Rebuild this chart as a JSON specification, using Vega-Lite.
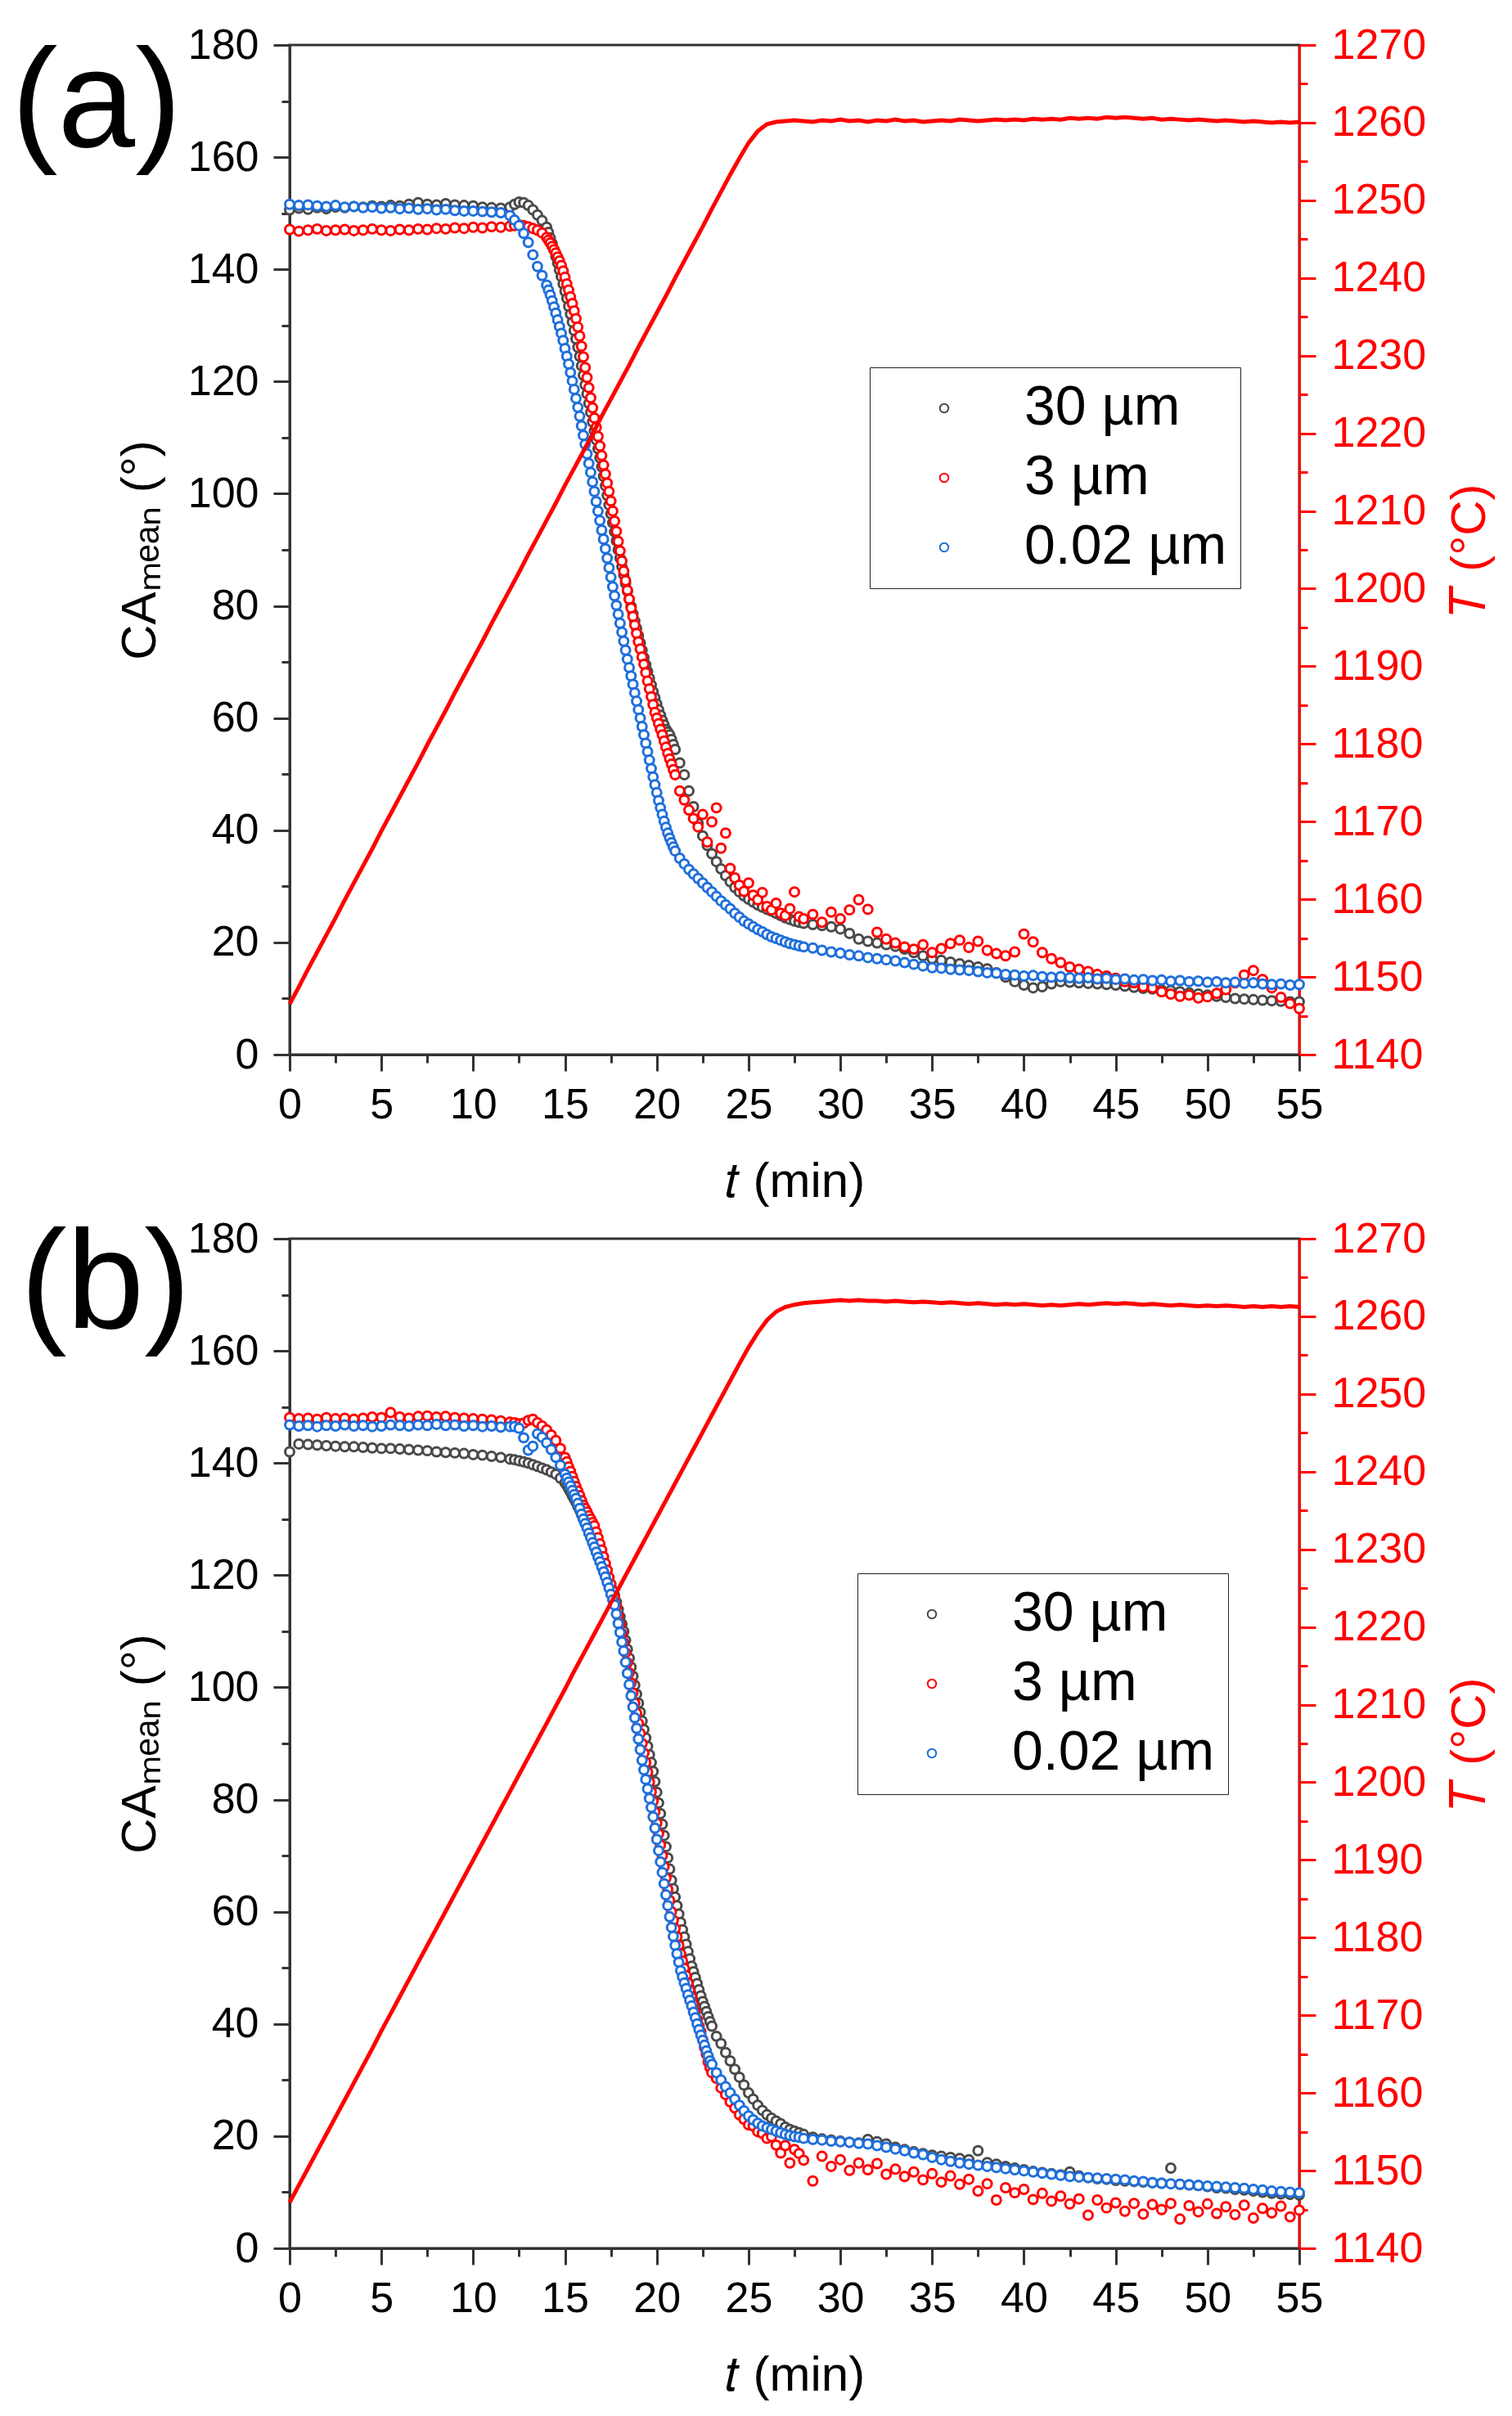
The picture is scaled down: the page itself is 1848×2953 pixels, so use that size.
{
  "$schema": "https://vega.github.io/schema/vega-lite/v6.json",
  "background": "white",
  "padding": {"left": 12, "top": 27, "right": 0, "bottom": 0},
  "config": {
    "font": "Liberation Sans",
    "view": {"stroke": "#333333", "strokeWidth": 3},
    "axis": {
      "labelFont": "Liberation Sans", "labelFontSize": 52, "labelColor": "#000000",
      "titleFont": "Liberation Sans", "titleFontSize": 60, "titleFontWeight": "normal", "titleColor": "#000000",
      "grid": false, "domainColor": "#333333", "domainWidth": 3, "tickColor": "#333333", "tickWidth": 3,
      "labelOverlap": false, "labelFlush": false, "zindex": 1, "format": "d"
    },
    "legend": {
      "orient": "none", "labelFont": "Liberation Sans", "labelFontSize": 68, "labelOffset": 64, "symbolOffset": 41,
      "labelLimit": 600, "rowPadding": 17, "padding": 16, "strokeColor": "#222222", "fillColor": "white",
      "symbolType": "circle", "symbolSize": 110, "symbolStrokeWidth": 2
    }
  },
  "datasets": {
    "a": [
      {"t":0,"c30":150.6,"c3":147.1,"c002":151.6,"T":1146.5},
      {"t":0.5,"c30":150.9,"c3":146.8,"c002":151.4,"T":1148.7},
      {"t":1,"c30":150.7,"c3":147.0,"c002":151.5,"T":1151.0},
      {"t":1.5,"c30":151.0,"c3":147.2,"c002":151.3,"T":1153.2},
      {"t":2,"c30":150.8,"c3":146.9,"c002":151.2,"T":1155.4},
      {"t":2.5,"c30":151.1,"c3":147.0,"c002":151.4,"T":1157.6},
      {"t":3,"c30":151.0,"c3":147.1,"c002":151.1,"T":1159.9},
      {"t":3.5,"c30":151.2,"c3":146.9,"c002":151.2,"T":1162.1},
      {"t":4,"c30":151.1,"c3":147.0,"c002":151.0,"T":1164.3},
      {"t":4.5,"c30":151.3,"c3":147.2,"c002":151.1,"T":1166.5},
      {"t":5,"c30":151.2,"c3":147.0,"c002":150.9,"T":1168.8},
      {"t":5.5,"c30":151.4,"c3":146.9,"c002":151.0,"T":1171.0},
      {"t":6,"c30":151.3,"c3":147.1,"c002":150.8,"T":1173.2},
      {"t":6.5,"c30":151.6,"c3":147.0,"c002":150.9,"T":1175.4},
      {"t":7,"c30":151.9,"c3":147.2,"c002":150.7,"T":1177.6},
      {"t":7.5,"c30":151.6,"c3":147.1,"c002":150.8,"T":1179.9},
      {"t":8,"c30":151.5,"c3":147.3,"c002":150.6,"T":1182.1},
      {"t":8.5,"c30":151.7,"c3":147.2,"c002":150.7,"T":1184.3},
      {"t":9,"c30":151.5,"c3":147.4,"c002":150.5,"T":1186.6},
      {"t":9.5,"c30":151.4,"c3":147.3,"c002":150.4,"T":1188.8},
      {"t":10,"c30":151.3,"c3":147.5,"c002":150.4,"T":1191.0},
      {"t":10.5,"c30":151.1,"c3":147.4,"c002":150.3,"T":1193.2},
      {"t":11,"c30":151.0,"c3":147.6,"c002":150.2,"T":1195.5},
      {"t":11.5,"c30":150.9,"c3":147.5,"c002":150.1,"T":1197.7},
      {"t":12,"c30":151.1,"c3":147.7,"c002":149.6,"T":1199.9},
      {"t":12.25,"c30":151.6,"c3":147.8,"c002":148.8},
      {"t":12.5,"c30":152.0,"c3":147.9,"c002":147.8,"T":1202.1},
      {"t":12.75,"c30":151.9,"c3":147.8,"c002":146.4},
      {"t":13,"c30":151.4,"c3":147.6,"c002":144.8,"T":1204.4},
      {"t":13.25,"c30":150.6,"c3":147.3,"c002":142.6},
      {"t":13.5,"c30":149.7,"c3":147.0,"c002":140.5,"T":1206.6},
      {"t":13.75,"c30":148.7,"c3":146.5,"c002":138.9},
      {"t":14,"c30":147.5,"c3":145.7,"c002":137.2,"T":1208.8},
      {"t":14.1,"c30":146.6,"c3":145.2,"c002":136.3},
      {"t":14.2,"c30":145.6,"c3":144.7,"c002":135.4},
      {"t":14.3,"c30":144.6,"c3":144.1,"c002":134.4},
      {"t":14.4,"c30":143.5,"c3":143.5,"c002":133.3},
      {"t":14.5,"c30":142.3,"c3":142.9,"c002":132.2,"T":1211.0},
      {"t":14.6,"c30":141.1,"c3":142.2,"c002":131.0},
      {"t":14.7,"c30":139.9,"c3":141.5,"c002":129.8},
      {"t":14.8,"c30":138.7,"c3":140.7,"c002":128.6},
      {"t":14.9,"c30":137.4,"c3":139.7,"c002":127.3},
      {"t":15,"c30":136.1,"c3":138.6,"c002":125.9,"T":1213.3},
      {"t":15.1,"c30":134.8,"c3":137.4,"c002":124.5},
      {"t":15.2,"c30":133.4,"c3":136.3,"c002":123.1},
      {"t":15.3,"c30":132.0,"c3":135.1,"c002":121.6},
      {"t":15.4,"c30":130.6,"c3":133.9,"c002":120.1},
      {"t":15.5,"c30":129.1,"c3":132.6,"c002":118.6,"T":1215.5},
      {"t":15.6,"c30":127.6,"c3":131.2,"c002":117.0},
      {"t":15.7,"c30":126.1,"c3":129.7,"c002":115.4},
      {"t":15.8,"c30":124.5,"c3":128.1,"c002":113.8},
      {"t":15.9,"c30":122.8,"c3":126.3,"c002":112.1},
      {"t":16,"c30":121.1,"c3":124.4,"c002":110.4,"T":1217.7},
      {"t":16.1,"c30":119.4,"c3":122.5,"c002":108.8},
      {"t":16.2,"c30":117.8,"c3":120.7,"c002":107.1},
      {"t":16.3,"c30":116.1,"c3":118.9,"c002":105.4},
      {"t":16.4,"c30":114.5,"c3":117.1,"c002":103.8},
      {"t":16.5,"c30":112.8,"c3":115.3,"c002":102.1,"T":1219.9},
      {"t":16.6,"c30":111.2,"c3":113.5,"c002":100.4},
      {"t":16.7,"c30":109.6,"c3":111.8,"c002":98.6},
      {"t":16.8,"c30":108.0,"c3":110.2,"c002":96.9},
      {"t":16.9,"c30":106.4,"c3":108.5,"c002":95.2},
      {"t":17,"c30":104.8,"c3":106.8,"c002":93.5,"T":1222.2},
      {"t":17.1,"c30":103.1,"c3":105.1,"c002":91.9},
      {"t":17.2,"c30":101.4,"c3":103.5,"c002":90.2},
      {"t":17.3,"c30":99.7,"c3":101.9,"c002":88.5},
      {"t":17.4,"c30":98.0,"c3":100.4,"c002":86.8},
      {"t":17.5,"c30":96.4,"c3":98.7,"c002":85.1,"T":1224.4},
      {"t":17.6,"c30":94.8,"c3":96.9,"c002":83.4},
      {"t":17.7,"c30":93.2,"c3":95.1,"c002":81.8},
      {"t":17.8,"c30":91.6,"c3":93.3,"c002":80.1},
      {"t":17.9,"c30":90.0,"c3":91.5,"c002":78.5},
      {"t":18,"c30":88.5,"c3":89.8,"c002":76.9,"T":1226.6},
      {"t":18.1,"c30":87.0,"c3":88.0,"c002":75.3},
      {"t":18.2,"c30":85.5,"c3":86.2,"c002":73.7},
      {"t":18.3,"c30":84.0,"c3":84.5,"c002":72.1},
      {"t":18.4,"c30":82.6,"c3":82.8,"c002":70.5},
      {"t":18.5,"c30":81.2,"c3":81.2,"c002":69.0,"T":1228.8},
      {"t":18.6,"c30":79.9,"c3":79.6,"c002":67.5},
      {"t":18.7,"c30":78.6,"c3":78.1,"c002":66.0},
      {"t":18.8,"c30":77.3,"c3":76.6,"c002":64.5},
      {"t":18.9,"c30":76.0,"c3":75.1,"c002":63.0},
      {"t":19,"c30":74.7,"c3":73.6,"c002":61.5,"T":1231.1},
      {"t":19.1,"c30":73.4,"c3":72.3,"c002":60.0},
      {"t":19.2,"c30":72.1,"c3":70.9,"c002":58.5},
      {"t":19.3,"c30":70.8,"c3":69.6,"c002":57.0},
      {"t":19.4,"c30":69.5,"c3":68.1,"c002":55.5},
      {"t":19.5,"c30":68.3,"c3":66.6,"c002":54.0,"T":1233.3},
      {"t":19.6,"c30":67.1,"c3":65.2,"c002":52.5},
      {"t":19.7,"c30":65.9,"c3":63.8,"c002":51.0},
      {"t":19.8,"c30":64.7,"c3":62.4,"c002":49.5},
      {"t":19.9,"c30":63.6,"c3":61.0,"c002":48.1},
      {"t":20,"c30":62.5,"c3":60.0,"c002":46.7,"T":1235.5},
      {"t":20.1,"c30":61.5,"c3":59.0,"c002":45.3},
      {"t":20.2,"c30":60.5,"c3":58.0,"c002":44.0},
      {"t":20.3,"c30":59.6,"c3":57.0,"c002":42.8},
      {"t":20.4,"c30":58.8,"c3":55.9,"c002":41.6},
      {"t":20.5,"c30":58.0,"c3":54.8,"c002":40.5,"T":1237.7},
      {"t":20.6,"c30":57.5,"c3":53.7,"c002":39.5},
      {"t":20.7,"c30":57.0,"c3":52.7,"c002":38.6},
      {"t":20.8,"c30":56.2,"c3":51.8,"c002":37.8},
      {"t":20.9,"c30":55.3,"c3":50.8,"c002":37.0},
      {"t":21,"c30":54.4,"c3":49.9,"c002":36.3,"T":1240.0},
      {"t":21.25,"c30":52.0,"c3":47.0,"c002":35.0},
      {"t":21.5,"c30":49.9,"c3":45.4,"c002":34.0,"T":1242.2},
      {"t":21.75,"c30":47.0,"c3":43.6,"c002":33.0},
      {"t":22,"c30":44.2,"c3":42.1,"c002":32.2,"T":1244.4},
      {"t":22.25,"c30":41.2,"c3":40.6,"c002":31.4},
      {"t":22.5,"c30":39.0,"c3":42.8,"c002":30.6,"T":1246.6},
      {"t":22.75,"c30":37.3,"c3":37.9,"c002":29.8},
      {"t":23,"c30":35.8,"c3":41.5,"c002":29.0,"T":1248.9},
      {"t":23.25,"c30":34.4,"c3":44.0,"c002":28.2},
      {"t":23.5,"c30":33.1,"c3":36.8,"c002":27.4,"T":1251.1},
      {"t":23.75,"c30":31.9,"c3":39.5,"c002":26.7},
      {"t":24,"c30":30.8,"c3":33.2,"c002":26.0,"T":1253.3},
      {"t":24.25,"c30":29.8,"c3":31.5,"c002":25.2},
      {"t":24.5,"c30":29.0,"c3":30.2,"c002":24.5,"T":1255.4},
      {"t":24.75,"c30":28.3,"c3":29.1,"c002":23.8},
      {"t":25,"c30":27.7,"c3":30.6,"c002":23.3,"T":1257.4},
      {"t":25.25,"c30":27.2,"c3":28.4,"c002":22.8},
      {"t":25.5,"c30":26.7,"c3":27.6,"c002":22.3,"T":1258.9},
      {"t":25.75,"c30":26.3,"c3":28.9,"c002":21.9},
      {"t":26,"c30":25.9,"c3":26.4,"c002":21.4,"T":1259.8},
      {"t":26.25,"c30":25.6,"c3":25.8,"c002":21.0},
      {"t":26.5,"c30":25.2,"c3":27.0,"c002":20.7,"T":1260.1},
      {"t":26.75,"c30":24.8,"c3":25.2,"c002":20.4},
      {"t":27,"c30":24.4,"c3":24.8,"c002":20.1,"T":1260.2},
      {"t":27.25,"c30":24.1,"c3":26.0,"c002":19.8},
      {"t":27.5,"c30":23.8,"c3":29.0,"c002":19.6,"T":1260.3},
      {"t":27.75,"c30":23.6,"c3":24.6,"c002":19.4},
      {"t":28,"c30":23.4,"c3":24.2,"c002":19.2,"T":1260.2},
      {"t":28.5,"c30":23.2,"c3":25.0,"c002":19.0,"T":1260.1},
      {"t":29,"c30":23.0,"c3":23.6,"c002":18.6,"T":1260.3},
      {"t":29.5,"c30":22.8,"c3":25.4,"c002":18.3,"T":1260.2},
      {"t":30,"c30":22.4,"c3":24.2,"c002":18.1,"T":1260.4},
      {"t":30.5,"c30":21.6,"c3":25.8,"c002":17.8,"T":1260.2},
      {"t":31,"c30":20.6,"c3":27.6,"c002":17.6,"T":1260.3},
      {"t":31.5,"c30":20.2,"c3":25.9,"c002":17.3,"T":1260.1},
      {"t":32,"c30":19.9,"c3":21.8,"c002":17.1,"T":1260.3},
      {"t":32.5,"c30":19.6,"c3":20.6,"c002":16.9,"T":1260.2},
      {"t":33,"c30":19.3,"c3":19.9,"c002":16.7,"T":1260.4},
      {"t":33.5,"c30":18.8,"c3":19.2,"c002":16.4,"T":1260.2},
      {"t":34,"c30":18.2,"c3":18.8,"c002":16.1,"T":1260.3},
      {"t":34.5,"c30":17.6,"c3":19.6,"c002":15.8,"T":1260.1},
      {"t":35,"c30":17.1,"c3":18.2,"c002":15.5,"T":1260.2},
      {"t":35.5,"c30":16.8,"c3":18.9,"c002":15.4,"T":1260.3},
      {"t":36,"c30":16.5,"c3":19.8,"c002":15.2,"T":1260.2},
      {"t":36.5,"c30":16.2,"c3":20.4,"c002":15.1,"T":1260.4},
      {"t":37,"c30":15.9,"c3":19.1,"c002":15.0,"T":1260.3},
      {"t":37.5,"c30":15.6,"c3":20.2,"c002":14.8,"T":1260.2},
      {"t":38,"c30":15.3,"c3":18.6,"c002":14.6,"T":1260.3},
      {"t":38.5,"c30":14.6,"c3":18.0,"c002":14.5,"T":1260.4},
      {"t":39,"c30":13.8,"c3":17.6,"c002":14.3,"T":1260.3},
      {"t":39.5,"c30":13.0,"c3":18.3,"c002":14.2,"T":1260.4},
      {"t":40,"c30":12.4,"c3":21.5,"c002":14.0,"T":1260.3},
      {"t":40.5,"c30":11.9,"c3":20.1,"c002":14.1,"T":1260.5},
      {"t":41,"c30":12.1,"c3":18.2,"c002":13.9,"T":1260.4},
      {"t":41.5,"c30":12.6,"c3":17.1,"c002":13.8,"T":1260.5},
      {"t":42,"c30":13.0,"c3":16.4,"c002":13.9,"T":1260.4},
      {"t":42.5,"c30":12.9,"c3":15.6,"c002":13.7,"T":1260.6},
      {"t":43,"c30":12.8,"c3":15.2,"c002":13.6,"T":1260.5},
      {"t":43.5,"c30":12.7,"c3":14.8,"c002":13.7,"T":1260.6},
      {"t":44,"c30":12.6,"c3":14.3,"c002":13.5,"T":1260.5},
      {"t":44.5,"c30":12.5,"c3":14.0,"c002":13.6,"T":1260.7},
      {"t":45,"c30":12.4,"c3":13.6,"c002":13.4,"T":1260.6},
      {"t":45.5,"c30":12.2,"c3":13.0,"c002":13.5,"T":1260.7},
      {"t":46,"c30":12.0,"c3":12.8,"c002":13.3,"T":1260.6},
      {"t":46.5,"c30":11.8,"c3":12.1,"c002":13.4,"T":1260.5},
      {"t":47,"c30":11.7,"c3":11.9,"c002":13.2,"T":1260.6},
      {"t":47.5,"c30":11.5,"c3":11.2,"c002":13.3,"T":1260.4},
      {"t":48,"c30":11.4,"c3":10.8,"c002":13.1,"T":1260.5},
      {"t":48.5,"c30":11.2,"c3":10.4,"c002":13.2,"T":1260.4},
      {"t":49,"c30":11.0,"c3":10.6,"c002":13.0,"T":1260.3},
      {"t":49.5,"c30":10.8,"c3":10.1,"c002":13.1,"T":1260.4},
      {"t":50,"c30":10.6,"c3":10.3,"c002":12.9,"T":1260.3},
      {"t":50.5,"c30":10.4,"c3":10.9,"c002":13.0,"T":1260.2},
      {"t":51,"c30":10.2,"c3":11.6,"c002":12.8,"T":1260.3},
      {"t":51.5,"c30":10.0,"c3":12.8,"c002":12.9,"T":1260.2},
      {"t":52,"c30":9.9,"c3":14.2,"c002":12.7,"T":1260.1},
      {"t":52.5,"c30":9.8,"c3":15.0,"c002":12.8,"T":1260.2},
      {"t":53,"c30":9.7,"c3":13.4,"c002":12.6,"T":1260.1},
      {"t":53.5,"c30":9.6,"c3":11.9,"c002":12.5,"T":1260.0},
      {"t":54,"c30":9.5,"c3":10.2,"c002":12.6,"T":1260.1},
      {"t":54.5,"c30":9.4,"c3":9.1,"c002":12.4,"T":1260.0},
      {"t":55,"c30":9.4,"c3":8.2,"c002":12.5,"T":1260.1}
    ],
    "b": [
      {"t":0,"c30":142.0,"c3":148.1,"c002":146.8,"T":1145.9},
      {"t":0.5,"c30":143.4,"c3":147.9,"c002":146.6,"T":1148.1},
      {"t":1,"c30":143.3,"c3":148.0,"c002":146.7,"T":1150.3},
      {"t":1.5,"c30":143.2,"c3":147.8,"c002":146.5,"T":1152.5},
      {"t":2,"c30":143.1,"c3":148.1,"c002":146.7,"T":1154.7},
      {"t":2.5,"c30":143.0,"c3":147.9,"c002":146.6,"T":1156.9},
      {"t":3,"c30":142.9,"c3":148.0,"c002":146.8,"T":1159.1},
      {"t":3.5,"c30":142.9,"c3":147.8,"c002":146.6,"T":1161.3},
      {"t":4,"c30":142.8,"c3":148.0,"c002":146.7,"T":1163.5},
      {"t":4.5,"c30":142.7,"c3":148.2,"c002":146.5,"T":1165.7},
      {"t":5,"c30":142.6,"c3":148.1,"c002":146.6,"T":1168.0},
      {"t":5.5,"c30":142.6,"c3":149.0,"c002":146.8,"T":1170.2},
      {"t":6,"c30":142.5,"c3":148.2,"c002":146.7,"T":1172.4},
      {"t":6.5,"c30":142.4,"c3":148.0,"c002":146.6,"T":1174.6},
      {"t":7,"c30":142.3,"c3":148.3,"c002":146.8,"T":1176.8},
      {"t":7.5,"c30":142.2,"c3":148.4,"c002":146.7,"T":1179.0},
      {"t":8,"c30":142.0,"c3":148.2,"c002":146.9,"T":1181.2},
      {"t":8.5,"c30":141.9,"c3":148.3,"c002":146.7,"T":1183.4},
      {"t":9,"c30":141.8,"c3":148.1,"c002":146.8,"T":1185.6},
      {"t":9.5,"c30":141.7,"c3":148.0,"c002":146.6,"T":1187.8},
      {"t":10,"c30":141.5,"c3":147.9,"c002":146.7,"T":1190.0},
      {"t":10.5,"c30":141.4,"c3":147.8,"c002":146.5,"T":1192.2},
      {"t":11,"c30":141.2,"c3":147.7,"c002":146.6,"T":1194.4},
      {"t":11.5,"c30":141.0,"c3":147.5,"c002":146.4,"T":1196.6},
      {"t":12,"c30":140.7,"c3":147.3,"c002":146.5,"T":1198.8},
      {"t":12.25,"c30":140.6,"c3":147.2,"c002":146.5},
      {"t":12.5,"c30":140.4,"c3":147.0,"c002":146.2,"T":1201.0},
      {"t":12.75,"c30":140.2,"c3":147.1,"c002":144.5},
      {"t":13,"c30":140.0,"c3":147.6,"c002":142.3,"T":1203.2},
      {"t":13.25,"c30":139.7,"c3":147.8,"c002":143.0},
      {"t":13.5,"c30":139.4,"c3":147.2,"c002":145.2,"T":1205.4},
      {"t":13.75,"c30":139.1,"c3":146.6,"c002":144.6},
      {"t":14,"c30":138.8,"c3":145.9,"c002":143.6,"T":1207.6},
      {"t":14.25,"c30":138.4,"c3":145.0,"c002":142.4},
      {"t":14.5,"c30":138.0,"c3":144.0,"c002":141.0,"T":1209.8},
      {"t":14.75,"c30":137.3,"c3":142.6,"c002":139.6},
      {"t":15,"c30":136.5,"c3":141.0,"c002":138.0,"T":1212.0},
      {"t":15.1,"c30":136.0,"c3":140.2,"c002":137.3},
      {"t":15.2,"c30":135.4,"c3":139.3,"c002":136.6},
      {"t":15.3,"c30":134.8,"c3":138.5,"c002":135.9},
      {"t":15.4,"c30":134.2,"c3":137.6,"c002":135.1},
      {"t":15.5,"c30":133.6,"c3":136.7,"c002":134.4,"T":1214.3},
      {"t":15.6,"c30":133.0,"c3":135.8,"c002":133.7},
      {"t":15.7,"c30":132.3,"c3":135.0,"c002":132.8},
      {"t":15.8,"c30":131.6,"c3":134.2,"c002":131.9},
      {"t":15.9,"c30":130.8,"c3":133.3,"c002":130.9},
      {"t":16,"c30":130.0,"c3":132.5,"c002":130.0,"T":1216.5},
      {"t":16.1,"c30":129.3,"c3":131.9,"c002":129.2},
      {"t":16.2,"c30":128.7,"c3":131.3,"c002":128.4},
      {"t":16.3,"c30":128.0,"c3":130.6,"c002":127.5},
      {"t":16.4,"c30":127.3,"c3":130.0,"c002":126.7},
      {"t":16.5,"c30":126.7,"c3":129.4,"c002":125.8,"T":1218.7},
      {"t":16.6,"c30":126.0,"c3":128.8,"c002":125.0},
      {"t":16.7,"c30":125.0,"c3":127.7,"c002":124.1},
      {"t":16.8,"c30":124.0,"c3":126.7,"c002":123.2},
      {"t":16.9,"c30":123.0,"c3":125.6,"c002":122.4},
      {"t":17,"c30":122.0,"c3":124.5,"c002":121.5,"T":1220.9},
      {"t":17.1,"c30":121.2,"c3":123.3,"c002":120.6},
      {"t":17.2,"c30":120.4,"c3":122.1,"c002":119.7},
      {"t":17.3,"c30":119.6,"c3":120.9,"c002":118.7},
      {"t":17.4,"c30":118.8,"c3":119.6,"c002":117.7},
      {"t":17.5,"c30":118.0,"c3":118.4,"c002":116.6,"T":1223.1},
      {"t":17.6,"c30":117.2,"c3":117.2,"c002":115.6},
      {"t":17.7,"c30":116.4,"c3":116.0,"c002":114.7},
      {"t":17.8,"c30":115.2,"c3":114.4,"c002":113.1},
      {"t":17.9,"c30":113.9,"c3":112.8,"c002":111.4},
      {"t":18,"c30":112.6,"c3":111.2,"c002":109.8,"T":1225.3},
      {"t":18.1,"c30":111.3,"c3":109.6,"c002":108.1},
      {"t":18.2,"c30":110.0,"c3":108.0,"c002":106.5},
      {"t":18.3,"c30":108.4,"c3":106.2,"c002":104.5},
      {"t":18.4,"c30":106.8,"c3":104.4,"c002":102.5},
      {"t":18.5,"c30":105.2,"c3":102.6,"c002":100.5,"T":1227.5},
      {"t":18.6,"c30":103.6,"c3":100.8,"c002":98.5},
      {"t":18.7,"c30":102.0,"c3":99.0,"c002":96.5},
      {"t":18.8,"c30":100.4,"c3":97.2,"c002":94.6},
      {"t":18.9,"c30":98.8,"c3":95.4,"c002":92.7},
      {"t":19,"c30":97.2,"c3":93.6,"c002":90.8,"T":1229.7},
      {"t":19.1,"c30":95.6,"c3":91.8,"c002":88.9},
      {"t":19.2,"c30":94.0,"c3":90.0,"c002":87.0},
      {"t":19.3,"c30":92.5,"c3":88.3,"c002":85.3},
      {"t":19.4,"c30":91.0,"c3":86.6,"c002":83.6},
      {"t":19.5,"c30":89.5,"c3":84.9,"c002":81.9,"T":1231.9},
      {"t":19.6,"c30":88.0,"c3":83.1,"c002":80.2},
      {"t":19.7,"c30":86.6,"c3":81.4,"c002":78.6},
      {"t":19.8,"c30":85.0,"c3":79.7,"c002":76.9},
      {"t":19.9,"c30":83.2,"c3":77.8,"c002":74.9},
      {"t":20,"c30":81.3,"c3":75.8,"c002":72.9,"T":1234.1},
      {"t":20.1,"c30":79.4,"c3":73.9,"c002":70.9},
      {"t":20.2,"c30":77.5,"c3":71.9,"c002":68.9},
      {"t":20.3,"c30":75.6,"c3":70.0,"c002":67.0},
      {"t":20.4,"c30":73.6,"c3":68.0,"c002":65.0},
      {"t":20.5,"c30":71.6,"c3":66.0,"c002":63.0,"T":1236.3},
      {"t":20.6,"c30":69.6,"c3":64.0,"c002":61.1},
      {"t":20.7,"c30":67.6,"c3":62.0,"c002":59.1},
      {"t":20.8,"c30":65.6,"c3":60.0,"c002":57.2},
      {"t":20.9,"c30":64.1,"c3":58.5,"c002":55.6},
      {"t":21,"c30":62.6,"c3":57.0,"c002":54.0,"T":1238.5},
      {"t":21.1,"c30":61.1,"c3":55.5,"c002":52.5},
      {"t":21.2,"c30":59.6,"c3":54.0,"c002":51.0},
      {"t":21.3,"c30":58.1,"c3":52.5,"c002":49.5},
      {"t":21.4,"c30":56.8,"c3":51.2,"c002":48.4},
      {"t":21.5,"c30":55.5,"c3":49.9,"c002":47.3,"T":1240.7},
      {"t":21.6,"c30":54.2,"c3":48.6,"c002":46.3},
      {"t":21.7,"c30":52.9,"c3":47.3,"c002":45.2},
      {"t":21.8,"c30":51.6,"c3":46.0,"c002":44.2},
      {"t":21.9,"c30":50.3,"c3":44.8,"c002":43.2},
      {"t":22,"c30":49.3,"c3":43.5,"c002":42.1,"T":1242.9},
      {"t":22.1,"c30":48.3,"c3":42.2,"c002":41.1},
      {"t":22.2,"c30":47.2,"c3":40.8,"c002":40.0},
      {"t":22.3,"c30":46.1,"c3":39.6,"c002":39.0},
      {"t":22.4,"c30":45.0,"c3":38.6,"c002":38.0},
      {"t":22.5,"c30":44.0,"c3":37.2,"c002":37.1,"T":1245.1},
      {"t":22.6,"c30":43.1,"c3":35.8,"c002":36.2},
      {"t":22.7,"c30":42.2,"c3":34.6,"c002":35.2},
      {"t":22.8,"c30":41.3,"c3":33.2,"c002":34.3},
      {"t":22.9,"c30":40.4,"c3":32.2,"c002":33.4},
      {"t":23,"c30":39.6,"c3":31.3,"c002":32.8,"T":1247.3},
      {"t":23.25,"c30":37.8,"c3":30.3,"c002":31.3},
      {"t":23.5,"c30":36.5,"c3":28.6,"c002":30.0,"T":1249.5},
      {"t":23.75,"c30":34.9,"c3":27.4,"c002":28.8},
      {"t":24,"c30":33.4,"c3":26.1,"c002":27.7,"T":1251.7},
      {"t":24.25,"c30":31.9,"c3":25.0,"c002":26.6},
      {"t":24.5,"c30":30.5,"c3":23.8,"c002":25.5,"T":1253.9},
      {"t":24.75,"c30":29.1,"c3":23.0,"c002":24.5},
      {"t":25,"c30":27.7,"c3":22.0,"c002":23.6,"T":1256.0},
      {"t":25.25,"c30":26.6,"c3":21.8,"c002":22.9},
      {"t":25.5,"c30":25.5,"c3":20.8,"c002":22.3,"T":1257.9},
      {"t":25.75,"c30":24.6,"c3":20.5,"c002":21.8},
      {"t":26,"c30":23.8,"c3":19.6,"c002":21.5,"T":1259.5},
      {"t":26.25,"c30":23.2,"c3":19.9,"c002":21.2},
      {"t":26.5,"c30":22.7,"c3":18.4,"c002":20.9,"T":1260.6},
      {"t":26.75,"c30":22.2,"c3":17.0,"c002":20.6},
      {"t":27,"c30":21.6,"c3":18.3,"c002":20.3,"T":1261.2},
      {"t":27.25,"c30":21.2,"c3":15.2,"c002":20.1},
      {"t":27.5,"c30":20.9,"c3":17.6,"c002":19.9,"T":1261.5},
      {"t":27.75,"c30":20.6,"c3":16.9,"c002":19.8},
      {"t":28,"c30":20.3,"c3":15.7,"c002":19.6,"T":1261.7},
      {"t":28.5,"c30":19.8,"c3":12.0,"c002":19.4,"T":1261.8},
      {"t":29,"c30":19.5,"c3":16.4,"c002":19.3,"T":1261.9},
      {"t":29.5,"c30":19.3,"c3":14.6,"c002":19.1,"T":1262.0},
      {"t":30,"c30":19.1,"c3":15.8,"c002":19.0,"T":1262.1},
      {"t":30.5,"c30":18.9,"c3":13.9,"c002":18.9,"T":1262.0},
      {"t":31,"c30":18.8,"c3":15.2,"c002":18.7,"T":1262.1},
      {"t":31.5,"c30":19.4,"c3":14.0,"c002":18.6,"T":1262.0},
      {"t":32,"c30":19.0,"c3":15.1,"c002":18.3,"T":1262.0},
      {"t":32.5,"c30":18.6,"c3":13.2,"c002":18.0,"T":1261.9},
      {"t":33,"c30":18.0,"c3":14.1,"c002":17.7,"T":1262.0},
      {"t":33.5,"c30":17.6,"c3":12.8,"c002":17.4,"T":1261.9},
      {"t":34,"c30":17.2,"c3":13.6,"c002":17.0,"T":1261.8},
      {"t":34.5,"c30":16.9,"c3":12.2,"c002":16.7,"T":1261.9},
      {"t":35,"c30":16.6,"c3":13.3,"c002":16.2,"T":1261.8},
      {"t":35.5,"c30":16.4,"c3":11.8,"c002":15.8,"T":1261.7},
      {"t":36,"c30":16.2,"c3":12.9,"c002":15.5,"T":1261.8},
      {"t":36.5,"c30":16.0,"c3":11.4,"c002":15.2,"T":1261.7},
      {"t":37,"c30":15.8,"c3":12.3,"c002":15.0,"T":1261.6},
      {"t":37.5,"c30":17.4,"c3":10.2,"c002":14.8,"T":1261.7},
      {"t":38,"c30":15.3,"c3":11.5,"c002":14.6,"T":1261.6},
      {"t":38.5,"c30":15.0,"c3":8.6,"c002":14.4,"T":1261.5},
      {"t":39,"c30":14.6,"c3":10.8,"c002":14.2,"T":1261.6},
      {"t":39.5,"c30":14.3,"c3":9.9,"c002":14.0,"T":1261.5},
      {"t":40,"c30":14.0,"c3":10.5,"c002":13.8,"T":1261.6},
      {"t":40.5,"c30":13.7,"c3":8.7,"c002":13.6,"T":1261.5},
      {"t":41,"c30":13.5,"c3":9.8,"c002":13.4,"T":1261.4},
      {"t":41.5,"c30":13.3,"c3":8.4,"c002":13.2,"T":1261.5},
      {"t":42,"c30":13.1,"c3":9.3,"c002":13.0,"T":1261.4},
      {"t":42.5,"c30":13.6,"c3":7.9,"c002":12.8,"T":1261.5},
      {"t":43,"c30":12.9,"c3":8.8,"c002":12.7,"T":1261.6},
      {"t":43.5,"c30":12.6,"c3":5.9,"c002":12.6,"T":1261.5},
      {"t":44,"c30":12.4,"c3":8.6,"c002":12.5,"T":1261.6},
      {"t":44.5,"c30":12.3,"c3":7.2,"c002":12.4,"T":1261.7},
      {"t":45,"c30":12.1,"c3":8.1,"c002":12.3,"T":1261.6},
      {"t":45.5,"c30":12.0,"c3":6.6,"c002":12.2,"T":1261.7},
      {"t":46,"c30":11.9,"c3":8.0,"c002":12.0,"T":1261.6},
      {"t":46.5,"c30":11.8,"c3":6.1,"c002":11.9,"T":1261.5},
      {"t":47,"c30":11.7,"c3":7.8,"c002":11.7,"T":1261.6},
      {"t":47.5,"c30":11.6,"c3":6.9,"c002":11.6,"T":1261.5},
      {"t":48,"c30":14.3,"c3":8.0,"c002":11.5,"T":1261.4},
      {"t":48.5,"c30":11.4,"c3":5.2,"c002":11.4,"T":1261.5},
      {"t":49,"c30":11.3,"c3":7.6,"c002":11.3,"T":1261.4},
      {"t":49.5,"c30":11.2,"c3":6.5,"c002":11.2,"T":1261.3},
      {"t":50,"c30":11.0,"c3":7.9,"c002":11.1,"T":1261.4},
      {"t":50.5,"c30":10.8,"c3":6.2,"c002":11.0,"T":1261.3},
      {"t":51,"c30":10.7,"c3":7.4,"c002":10.9,"T":1261.4},
      {"t":51.5,"c30":10.5,"c3":6.0,"c002":10.8,"T":1261.3},
      {"t":52,"c30":10.4,"c3":7.7,"c002":10.7,"T":1261.2},
      {"t":52.5,"c30":10.2,"c3":5.4,"c002":10.5,"T":1261.3},
      {"t":53,"c30":10.0,"c3":7.1,"c002":10.4,"T":1261.2},
      {"t":53.5,"c30":9.8,"c3":6.3,"c002":10.2,"T":1261.3},
      {"t":54,"c30":9.7,"c3":7.5,"c002":10.1,"T":1261.2},
      {"t":54.5,"c30":9.6,"c3":5.6,"c002":10.0,"T":1261.3},
      {"t":55,"c30":9.5,"c3":6.8,"c002":9.9,"T":1261.2}
    ]
  },
  "vconcat": [
    {
      "width": 1234, "height": 1234,
      "data": {"name": "a"},
      "title": {"text": "(a)", "anchor": "start", "frame": "group", "orient": "top", "offset": 0, "baseline": "alphabetic", "dx": -340, "dy": 320, "fontSize": 170, "fontWeight": "normal", "font": "Liberation Sans", "color": "#000000"},
      "encoding": {
        "x": {"field": "t", "type": "quantitative", "scale": {"domain": [0, 55], "nice": false},
          "axis": {"title": "𝑡 (min)", "values": [0,2.5,5,7.5,10,12.5,15,17.5,20,22.5,25,27.5,30,32.5,35,37.5,40,42.5,45,47.5,50,52.5,55],
            "labelExpr": "datum.value % 5 === 0 ? datum.label : ''",
            "tickSize": {"condition": {"test": "datum.value % 5 === 0", "value": 20}, "value": 10},
            "labelPadding": 16, "titlePadding": 39}}
      },
      "layer": [
        {
          "transform": [{"fold": ["c30", "c3", "c002"], "as": ["s", "CA"]}],
          "mark": {"type": "point", "shape": "circle", "filled": false, "fill": "white", "size": 120, "strokeWidth": 3, "opacity": 1},
          "encoding": {
            "y": {"field": "CA", "type": "quantitative", "scale": {"domain": [0, 180], "nice": false},
              "axis": {"title": "CAₘₑₐₙ (°)", "values": [0,10,20,30,40,50,60,70,80,90,100,110,120,130,140,150,160,170,180],
                "labelExpr": "datum.value % 20 === 0 ? datum.label : ''",
                "tickSize": {"condition": {"test": "datum.value % 20 === 0", "value": 20}, "value": 10},
                "labelPadding": 18, "titlePadding": 27}},
            "color": {"field": "s", "type": "nominal",
              "scale": {"domain": ["c30", "c3", "c002"], "range": ["#4a4a4a", "#ff0000", "#1f6fdc"]},
              "legend": {"title": null, "legendX": 709, "legendY": 394,
                "labelExpr": "datum.value === 'c30' ? '30 µm' : datum.value === 'c3' ? '3 µm' : '0.02 µm'",
                "encode": {"labels": {"update": {"fill": {"signal": "datum.value === 'c30' ? '#404040' : datum.value === 'c3' ? '#ff0000' : '#1f6fdc'"}}},
                  "legend": {"update": {"strokeWidth": {"value": 3}}}}}},
            "order": {"field": "s", "type": "ordinal", "sort": "descending"}
          }
        },
        {
          "transform": [{"filter": "isValid(datum.T)"}],
          "mark": {"type": "line", "color": "#ff0000", "strokeWidth": 5},
          "encoding": {
            "y": {"field": "T", "type": "quantitative", "scale": {"domain": [1140, 1270], "nice": false},
              "axis": {"orient": "right", "title": "𝑇 (°C)", "titleAngle": 270, "titleBaseline": "top",
                "values": [1140,1145,1150,1155,1160,1165,1170,1175,1180,1185,1190,1195,1200,1205,1210,1215,1220,1225,1230,1235,1240,1245,1250,1255,1260,1265,1270],
                "labelExpr": "datum.value % 10 === 0 ? datum.label : ''",
                "tickSize": {"condition": {"test": "datum.value % 10 === 0", "value": 20}, "value": 10},
                "labelPadding": 19, "titlePadding": 25,
                "domainColor": "#ff0000", "tickColor": "#ff0000", "labelColor": "#ff0000", "titleColor": "#ff0000"}}
          }
        }
      ],
      "resolve": {"scale": {"y": "independent"}}
    },
    {
      "width": 1234, "height": 1234,
      "data": {"name": "b"},
      "title": {"text": "(b)", "anchor": "start", "frame": "group", "orient": "top", "offset": 0, "baseline": "alphabetic", "dx": -329, "dy": 305, "fontSize": 170, "fontWeight": "normal", "font": "Liberation Sans", "color": "#000000"},
      "encoding": {
        "x": {"field": "t", "type": "quantitative", "scale": {"domain": [0, 55], "nice": false},
          "axis": {"title": "𝑡 (min)", "values": [0,2.5,5,7.5,10,12.5,15,17.5,20,22.5,25,27.5,30,32.5,35,37.5,40,42.5,45,47.5,50,52.5,55],
            "labelExpr": "datum.value % 5 === 0 ? datum.label : ''",
            "tickSize": {"condition": {"test": "datum.value % 5 === 0", "value": 20}, "value": 10},
            "labelPadding": 16, "titlePadding": 39}}
      },
      "layer": [
        {
          "transform": [{"fold": ["c30", "c3", "c002"], "as": ["s", "CA"]}],
          "mark": {"type": "point", "shape": "circle", "filled": false, "fill": "white", "size": 120, "strokeWidth": 3, "opacity": 1},
          "encoding": {
            "y": {"field": "CA", "type": "quantitative", "scale": {"domain": [0, 180], "nice": false},
              "axis": {"title": "CAₘₑₐₙ (°)", "values": [0,10,20,30,40,50,60,70,80,90,100,110,120,130,140,150,160,170,180],
                "labelExpr": "datum.value % 20 === 0 ? datum.label : ''",
                "tickSize": {"condition": {"test": "datum.value % 20 === 0", "value": 20}, "value": 10},
                "labelPadding": 18, "titlePadding": 27}},
            "color": {"field": "s", "type": "nominal",
              "scale": {"domain": ["c30", "c3", "c002"], "range": ["#4a4a4a", "#ff0000", "#1f6fdc"]},
              "legend": {"title": null, "legendX": 694, "legendY": 409,
                "labelExpr": "datum.value === 'c30' ? '30 µm' : datum.value === 'c3' ? '3 µm' : '0.02 µm'",
                "encode": {"labels": {"update": {"fill": {"signal": "datum.value === 'c30' ? '#404040' : datum.value === 'c3' ? '#ff0000' : '#1f6fdc'"}}},
                  "legend": {"update": {"strokeWidth": {"value": 3}}}}}},
            "order": {"field": "s", "type": "ordinal", "sort": "descending"}
          }
        },
        {
          "transform": [{"filter": "isValid(datum.T)"}],
          "mark": {"type": "line", "color": "#ff0000", "strokeWidth": 5},
          "encoding": {
            "y": {"field": "T", "type": "quantitative", "scale": {"domain": [1140, 1270], "nice": false},
              "axis": {"orient": "right", "title": "𝑇 (°C)", "titleAngle": 270, "titleBaseline": "top",
                "values": [1140,1145,1150,1155,1160,1165,1170,1175,1180,1185,1190,1195,1200,1205,1210,1215,1220,1225,1230,1235,1240,1245,1250,1255,1260,1265,1270],
                "labelExpr": "datum.value % 10 === 0 ? datum.label : ''",
                "tickSize": {"condition": {"test": "datum.value % 10 === 0", "value": 20}, "value": 10},
                "labelPadding": 19, "titlePadding": 25,
                "domainColor": "#ff0000", "tickColor": "#ff0000", "labelColor": "#ff0000", "titleColor": "#ff0000"}}
          }
        }
      ],
      "resolve": {"scale": {"y": "independent"}}
    }
  ],
  "spacing": 225,
  "bounds": "flush",
  "resolve": {"scale": {"color": "independent"}}
}
